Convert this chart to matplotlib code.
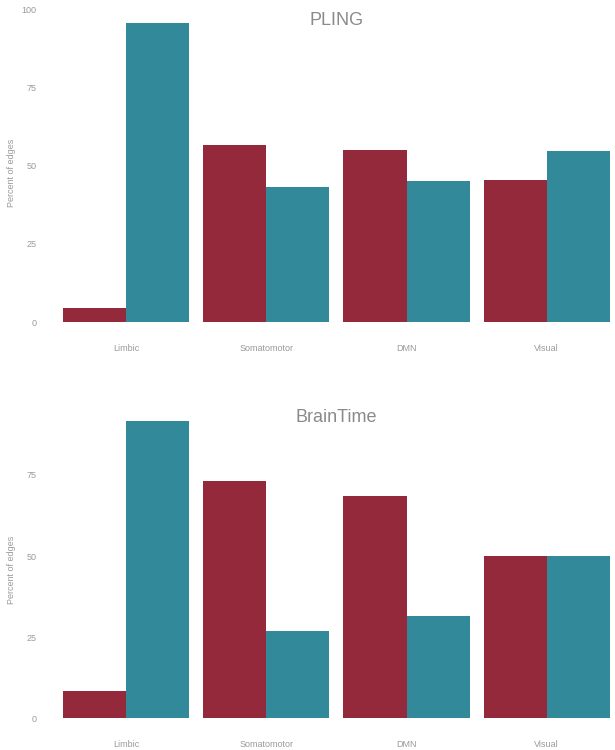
import numpy as np
import matplotlib
matplotlib.use("Agg")
import matplotlib.pyplot as plt

plt.rcParams['font.family'] = ['Liberation Sans', 'DejaVu Sans']

networks = ["Limbic", "Somatomotor", "DMN", "Visual"]
pling_red = [4.5, 56.7, 55.0, 45.4]
pling_teal = [95.5, 43.3, 45.0, 54.6]
brain_red = [8.3, 73.1, 68.5, 50.0]
brain_teal = [91.7, 26.9, 31.5, 50.0]

red = "#93293b"
teal = "#32899a"
grey = "#9a9a9a"

fig = plt.figure(figsize=(6.15, 7.5), dpi=100)
ax1 = fig.add_axes([0.091, 0.5507, 0.912, 0.438])
ax2 = fig.add_axes([0.091, 0.0227, 0.912, 0.436])

x = np.arange(len(networks))
w = 0.45

def panel(ax, r, t, title, yticks):
    ax.bar(x - w / 2, r, width=w, color=red)
    ax.bar(x + w / 2, t, width=w, color=teal)
    top = max(max(r), max(t))
    ax.set_ylim(-0.05 * top, top * 1.05)
    ax.set_xlim(-0.5, 3.5)
    ax.set_xticks(x)
    ax.set_xticklabels(networks)
    ax.set_yticks(yticks)
    ax.tick_params(length=0, labelsize=6.5, colors=grey)
    ax.tick_params(axis="y", pad=14)
    ax.tick_params(axis="x", pad=5)
    for s in ax.spines.values():
        s.set_visible(False)
    ax.set_ylabel("Percent of edges", fontsize=6.5, color=grey)
    ax.yaxis.set_label_coords(-0.072, 0.5)
    ax.text(0.5, 0.99, title, transform=ax.transAxes, ha="center", va="top",
            fontsize=13, color="#8a8a8a")

panel(ax1, pling_red, pling_teal, "PLING", [0, 25, 50, 75, 100])
panel(ax2, brain_red, brain_teal, "BrainTime", [0, 25, 50, 75])

fig.savefig("out.png", dpi=100)
